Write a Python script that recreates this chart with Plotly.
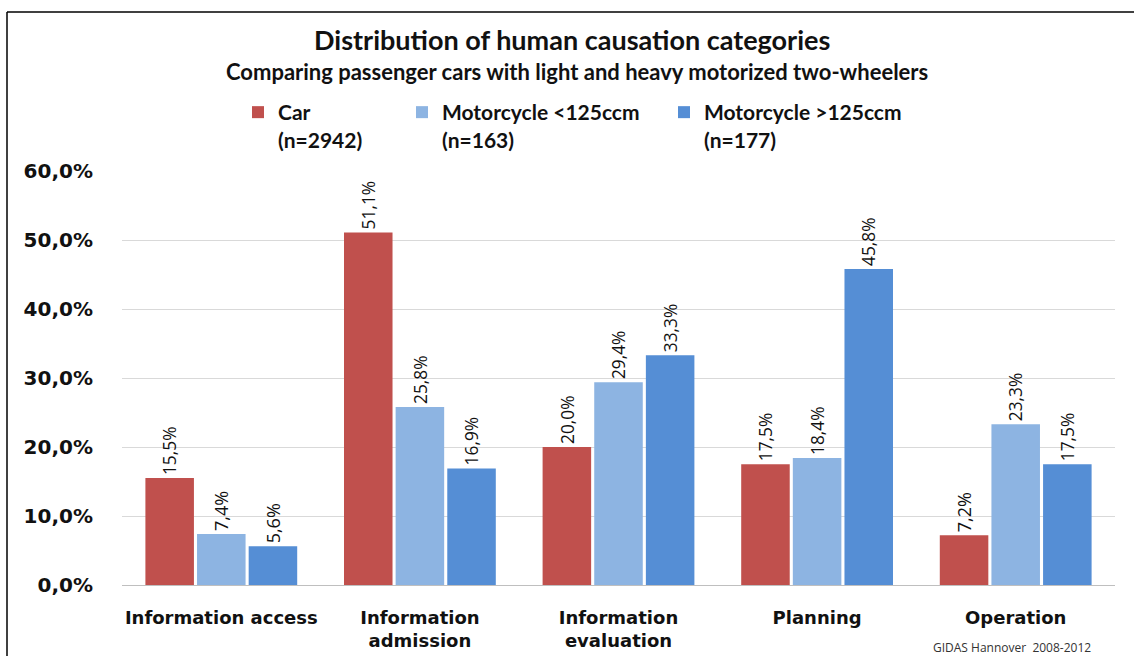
import plotly.graph_objects as go

categories = ["Information access", "Information<br>admission", "Information<br>evaluation", "Planning", "Operation"]
series_names = ["Car<br>(n=2942)", "Motorcycle <125ccm<br>(n=163)", "Motorcycle >125ccm<br>(n=177)"]
car = [0.155, 0.511, 0.200, 0.175, 0.072]
moto_light = [0.074, 0.258, 0.294, 0.184, 0.233]
moto_heavy = [0.056, 0.169, 0.333, 0.458, 0.175]
colors = ["#C0504D", "#8DB4E2", "#558ED5"]
y_ticks = [0, 0.1, 0.2, 0.3, 0.4, 0.5, 0.6]

W, H = 1134, 656
L, R, T, B = 122, 19, 171, 71
pw, ph = W - L - R, H - T - B
def px(x): return (x - L) / pw
def py(y): return (H - B - y) / ph

legend_ids = ["legend", "legend2", "legend3"]
legend_x = [238, 402, 664]

fig = go.Figure()
for name, vals, col, lid in zip(series_names, [car, moto_light, moto_heavy], colors, legend_ids):
    fig.add_trace(go.Bar(
        x=categories, y=vals, name=name, marker_color=col,
        marker_line_width=0, legend=lid,
        texttemplate="%{y:.1%}", textposition="outside", textangle=-90,
        textfont=dict(family="Open Sans", size=18, color="#111"),
        cliponaxis=False,
    ))

legend_style = dict(orientation="h", xanchor="left", yanchor="top",
                    font=dict(family="Lato", size=21, color="#111", weight="bold"),
                    itemwidth=30, valign="top", bgcolor="rgba(0,0,0,0)")

fig.update_layout(
    width=W, height=H,
    margin=dict(l=L, r=R, t=T, b=B, autoexpand=False),
    paper_bgcolor="white", plot_bgcolor="white",
    separators=",.",
    barmode="group", bargap=0.22, bargroupgap=0.06,
    showlegend=True,
    legend=dict(x=px(legend_x[0]), y=py(92), **legend_style),
    legend2=dict(x=px(legend_x[1]), y=py(92), **legend_style),
    legend3=dict(x=px(legend_x[2]), y=py(92), **legend_style),
    xaxis=dict(showgrid=False, showline=True, linecolor="#BFBFBF", linewidth=1, automargin=False,
               ticks="", tickfont=dict(family="DejaVu Sans", size=18, color="#111", weight="bold"),
               ticklabelstandoff=16),
    yaxis=dict(range=[0, 0.6], tickvals=y_ticks, tickformat=".1%", automargin=False,
               showgrid=True, gridcolor="#D9D9D9", gridwidth=1, zeroline=False,
               ticks="", tickfont=dict(family="DejaVu Sans", size=20, color="#111", weight="bold"),
               ticklabelstandoff=28),
    annotations=[
        dict(text="<b>Distribution of human causation categories</b>", xref="paper", yref="paper",
             x=px(572), y=py(40), xanchor="center", yanchor="middle", showarrow=False,
             font=dict(family="Lato", size=27, color="#111")),
        dict(text="<b>Comparing passenger cars with light and heavy motorized two-wheelers</b>",
             xref="paper", yref="paper", x=px(577), y=py(71), xanchor="center", yanchor="middle",
             showarrow=False, font=dict(family="Lato", size=22, color="#111")),
        dict(text="GIDAS Hannover  2008-2012", xref="paper", yref="paper",
             x=px(1012), y=py(647), xanchor="center", yanchor="middle", showarrow=False,
             font=dict(family="Open Sans", size=12, color="#333")),
    ],
    shapes=[
        dict(type="line", xref="paper", yref="paper", x0=px(7), x1=px(7), y0=py(12), y1=py(660),
             line=dict(color="black", width=1.5)),
        dict(type="line", xref="paper", yref="paper", x0=px(7), x1=px(1140), y0=py(12), y1=py(12),
             line=dict(color="black", width=1.5)),
    ],
)

fig.write_html("out.html", config={"displayModeBar": False},
               post_script="document.body.style.margin='0';")
